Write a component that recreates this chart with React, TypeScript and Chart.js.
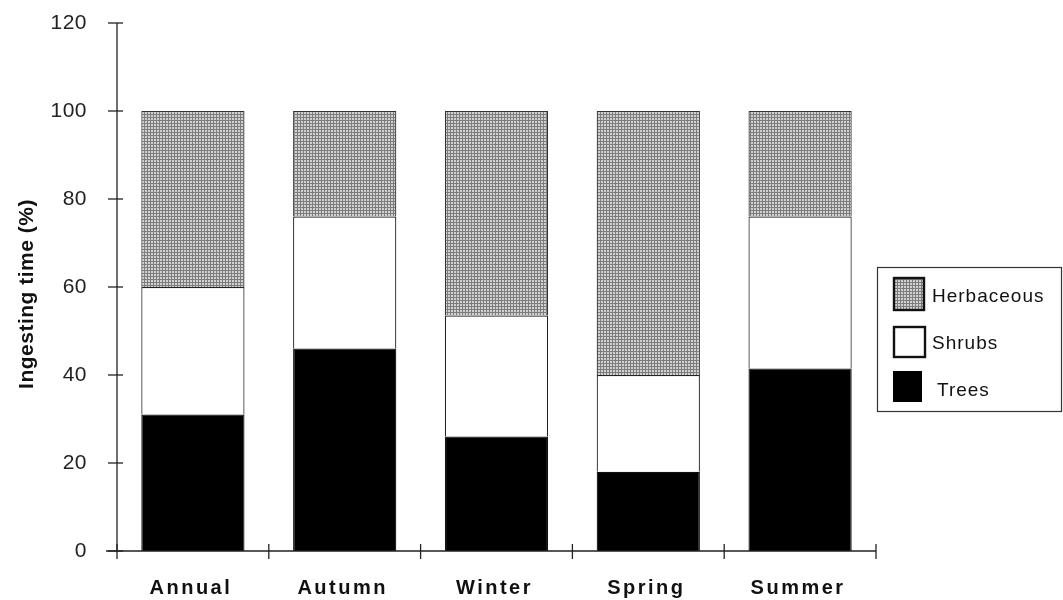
import React, { useEffect, useRef } from "react";
import { Chart, registerables } from "chart.js";

Chart.register(...registerables);

const categories = ["Annual", "Autumn", "Winter", "Spring", "Summer"];
const trees = [31, 46, 26, 18, 41.5];
const shrubs = [29, 30, 27.5, 22, 34.5];
const herbaceous = [40, 24, 46.5, 60, 24];
const yTicks = [0, 20, 40, 60, 80, 100, 120];
const legendItems = ["Herbaceous", "Shrubs", "Trees"];
const yTitle = "Ingesting time (%)";

function makePattern(): CanvasPattern | string {
  const c = document.createElement("canvas");
  c.width = 3;
  c.height = 3;
  const g = c.getContext("2d");
  if (!g) return "#a8a8a8";
  g.fillStyle = "#d2d2d2";
  g.fillRect(0, 0, 3, 3);
  g.fillStyle = "#7c7c7c";
  g.fillRect(0, 0, 3, 1);
  g.fillRect(0, 0, 1, 3);
  const p = g.createPattern(c, "repeat");
  return p || "#a8a8a8";
}

export default function App() {
  const ref = useRef<HTMLCanvasElement | null>(null);

  useEffect(() => {
    if (!ref.current) return;
    const pattern = makePattern();

    const decor = {
      id: "decor",
      afterDraw(chart: any) {
        const ctx = chart.ctx as CanvasRenderingContext2D;
        const xs = chart.scales.x;
        const ys = chart.scales.y;
        const area = chart.chartArea;
        ctx.save();
        ctx.strokeStyle = "#222";
        ctx.lineWidth = 1.3;
        // axes lines
        ctx.beginPath();
        ctx.moveTo(area.left, ys.getPixelForValue(120));
        ctx.lineTo(area.left, ys.getPixelForValue(0));
        ctx.moveTo(area.left - 11, ys.getPixelForValue(0));
        ctx.lineTo(area.right, ys.getPixelForValue(0));
        ctx.stroke();
        // y ticks + labels
        ctx.fillStyle = "#222";
        ctx.font = "21px 'Liberation Sans', Arial, sans-serif";
        (ctx as any).letterSpacing = "0.5px";
        ctx.textAlign = "right";
        ctx.textBaseline = "middle";
        yTicks.forEach((v) => {
          const y = ys.getPixelForValue(v);
          ctx.beginPath();
          ctx.moveTo(area.left - 9, y);
          ctx.lineTo(area.left + 6, y);
          ctx.stroke();
          ctx.fillText(String(v), area.left - 30, y);
        });
        // x ticks at category boundaries
        const n = categories.length;
        const step = (area.right - area.left) / n;
        const y0 = ys.getPixelForValue(0);
        for (let i = 0; i <= n; i++) {
          const x = area.left + i * step;
          ctx.beginPath();
          ctx.moveTo(x, y0 - 7);
          ctx.lineTo(x, y0 + 8);
          ctx.stroke();
        }
        // x labels
        ctx.fillStyle = "#111";
        ctx.font = "bold 20px 'Liberation Sans', Arial, sans-serif";
        (ctx as any).letterSpacing = "2.5px";
        ctx.textAlign = "center";
        ctx.textBaseline = "alphabetic";
        categories.forEach((c, i) => {
          const x = xs.getPixelForValue(i);
          ctx.fillText(c, x - 2, 594);
        });
        // y title
        ctx.save();
        ctx.translate(27, 294);
        ctx.rotate(-Math.PI / 2);
        ctx.font = "bold 21px 'Liberation Sans', Arial, sans-serif";
        (ctx as any).letterSpacing = "0.5px";
        ctx.textAlign = "center";
        ctx.textBaseline = "middle";
        ctx.fillText(yTitle, 0, 0);
        ctx.restore();
        // legend
        ctx.lineWidth = 1.2;
        ctx.strokeStyle = "#333";
        ctx.strokeRect(877.5, 267.5, 184, 144);
        const swatches = [
          { x: 893, y: 277, w: 32, h: 34, fill: pattern, tx: 932, ty: 302 },
          { x: 893, y: 326, w: 33, h: 32, fill: "#ffffff", tx: 932, ty: 349 },
          { x: 893, y: 371, w: 29, h: 31, fill: "#000000", tx: 937, ty: 396 },
        ];
        ctx.font = "19px 'Liberation Sans', Arial, sans-serif";
        (ctx as any).letterSpacing = "1px";
        ctx.textAlign = "left";
        swatches.forEach((s, i) => {
          ctx.fillStyle = s.fill as any;
          ctx.fillRect(s.x, s.y, s.w, s.h);
          if (i < 2) {
            ctx.lineWidth = 2.4;
            ctx.strokeStyle = "#111";
            ctx.strokeRect(s.x + 1, s.y + 1, s.w - 2, s.h - 2);
          }
          ctx.fillStyle = "#111";
          ctx.fillText(legendItems[i], s.tx, s.ty);
        });
        ctx.restore();
      },
    };

    const chart = new Chart(ref.current, {
      type: "bar",
      data: {
        labels: categories,
        datasets: [
          {
            label: "Trees",
            data: trees,
            backgroundColor: "#000000",
            borderColor: "#111",
            borderWidth: 1.2,
            barPercentage: 0.68,
            categoryPercentage: 1,
          },
          {
            label: "Shrubs",
            data: shrubs,
            backgroundColor: "#ffffff",
            borderColor: "#222",
            borderWidth: 1.2,
            barPercentage: 0.68,
            categoryPercentage: 1,
          },
          {
            label: "Herbaceous",
            data: herbaceous,
            backgroundColor: pattern as any,
            borderColor: "#333",
            borderWidth: 1.2,
            barPercentage: 0.68,
            categoryPercentage: 1,
          },
        ],
      },
      options: {
        responsive: false,
        animation: false,
        devicePixelRatio: 1,
        layout: { padding: { left: 0, right: 187, top: 23, bottom: 0 } },
        plugins: {
          legend: { display: false },
          tooltip: { enabled: false },
        },
        scales: {
          x: {
            stacked: true,
            grid: { display: false },
            border: { display: false },
            ticks: { display: false },
            afterFit: (s: any) => {
              s.height = 49;
            },
          },
          y: {
            stacked: true,
            min: 0,
            max: 120,
            grid: { display: false },
            border: { display: false },
            ticks: { display: false, stepSize: 20 },
            afterFit: (s: any) => {
              s.width = 117;
            },
          },
        },
      },
      plugins: [decor],
    });
    return () => chart.destroy();
  }, []);

  return (
    <div style={{ position: "absolute", left: 0, top: 0, width: 1063, height: 600, background: "#fff" }}>
      <canvas ref={ref} width={1063} height={600} style={{ display: "block" }} />
    </div>
  );
}
